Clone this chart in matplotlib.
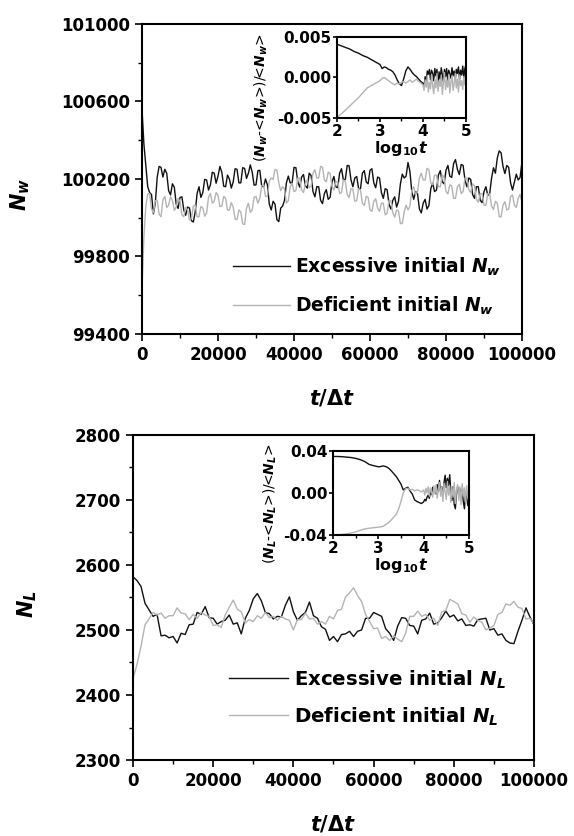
"""
plot.py
-------
Equilibration of N_w and N_L from excessive / deficient initial states,
with relative-deviation insets on a log10 time axis.
"""

import matplotlib
matplotlib.use("Agg")
import matplotlib.pyplot as plt
import numpy as np
from matplotlib.ticker import MultipleLocator

plt.rcParams["font.family"] = ["DejaVu Sans"]
plt.rcParams["font.weight"] = "bold"
plt.rcParams["axes.unicode_minus"] = False
plt.rcParams["mathtext.fontset"] = "custom"
plt.rcParams["mathtext.rm"] = "DejaVu Sans:bold"
plt.rcParams["mathtext.it"] = "DejaVu Sans:bold:italic"
plt.rcParams["mathtext.bf"] = "DejaVu Sans:bold"

BLACK = "#111111"
GREY  = "#b4b4b4"
T_END = 100000

# ── Data ──────────────────────────────────────────────────────────────────────

# N_w, one sample every 500 steps
nw_excess = [
    100560, 100380, 100270, 100160, 100130, 100120, 100020, 100075, 100210, 100265,
    100260, 100210, 100250, 100230, 100140, 100118, 100175, 100158, 100070, 100048,
    100105, 100108, 100040, 100013, 100055, 100050,  99985,  99978, 100030, 100125,
    100160, 100105, 100130, 100198, 100195, 100143, 100170, 100235, 100230, 100178,
    100215, 100265, 100235, 100163, 100160, 100220, 100200, 100153, 100185, 100253,
    100250, 100180, 100180, 100258, 100255, 100203, 100230, 100273, 100235, 100168,
    100170, 100243, 100245, 100163, 100160, 100200, 100170, 100070, 100040, 100085,
    100070,  99990,  99980, 100050, 100060, 100090, 100180, 100215, 100180, 100180,
    100260, 100258, 100185, 100158, 100210, 100223, 100165, 100153, 100230, 100218,
    100135, 100108, 100160, 100160, 100090, 100073, 100125, 100145, 100095, 100105,
    100185, 100213, 100160, 100155, 100230, 100253, 100195, 100198, 100270, 100268,
    100195, 100160, 100205, 100213, 100150, 100150, 100230, 100243, 100185, 100175,
    100245, 100253, 100180, 100155, 100210, 100205, 100130, 100100, 100150, 100145,
    100070, 100045, 100090, 100108, 100055, 100085, 100175, 100225, 100205, 100215,
    100285, 100240, 100135, 100095, 100135, 100125, 100045, 100025, 100075, 100095,
    100045, 100063, 100150, 100178, 100135, 100143, 100220, 100243, 100185, 100175,
    100245, 100270, 100215, 100208, 100280, 100300, 100250, 100223, 100275, 100270,
    100195, 100160, 100205, 100198, 100120, 100100, 100160, 100160, 100090, 100078,
    100135, 100160, 100115, 100125, 100205, 100258, 100230, 100308, 100345, 100335,
    100265, 100228, 100270, 100260, 100180, 100143, 100185, 100225, 100195, 100208,
    100290,
]
nw_deficient = [
     99640,  99900, 100060, 100123, 100125, 100045, 100025, 100088, 100090, 100018,
    100005, 100093, 100110, 100053, 100065, 100108, 100090, 100038, 100055, 100100,
    100085, 100015, 100005, 100053, 100040,  99988,  99995, 100060, 100065, 100005,
    100005, 100058, 100050, 100008, 100025, 100105, 100125, 100075, 100085, 100130,
    100115, 100058, 100060, 100110, 100100, 100040, 100040, 100078, 100055,  99993,
     99990, 100040, 100030,  99968,  99965, 100050, 100075, 100028, 100040, 100105,
    100110, 100075, 100100, 100165, 100170, 100110, 100110, 100188, 100205, 100198,
    100250, 100245, 100180, 100140, 100160, 100148, 100075, 100088, 100160, 100178,
    100135, 100140, 100205, 100205, 100145, 100130, 100175, 100195, 100155, 100163,
    100230, 100248, 100205, 100205, 100265, 100260, 100195, 100185, 100235, 100228,
    100160, 100143, 100185, 100185, 100125, 100130, 100195, 100188, 100120, 100105,
    100150, 100148, 100085, 100088, 100150, 100143, 100075, 100063, 100110, 100105,
    100040, 100033, 100085, 100098, 100050, 100033, 100075, 100075, 100015, 100023,
    100090, 100088, 100025, 100003, 100040, 100035,  99970,  99970, 100030, 100065,
    100040, 100060, 100140, 100160, 100120, 100133, 100205, 100230, 100195, 100195,
    100255, 100248, 100180, 100170, 100220, 100220, 100160, 100160, 100220, 100208,
    100135, 100123, 100170, 100165, 100100, 100100, 100160, 100173, 100125, 100135,
    100205, 100205, 100145, 100130, 100175, 100165, 100095, 100080, 100125, 100125,
    100065, 100065, 100125, 100123, 100060, 100043, 100085, 100075, 100005, 100005,
    100065, 100083, 100040, 100045, 100110, 100118, 100065, 100053, 100100, 100120,
    100080,
]

# N_L, one sample every 1000 steps
nl_excess = [
    2582, 2576, 2567, 2541, 2531, 2521, 2524, 2491, 2492, 2488,
    2490, 2480, 2495, 2493, 2508, 2509, 2527, 2524, 2536, 2519,
    2518, 2509, 2513, 2515, 2523, 2509, 2511, 2494, 2518, 2530,
    2548, 2556, 2545, 2527, 2525, 2517, 2521, 2520, 2538, 2551,
    2528, 2515, 2522, 2527, 2543, 2522, 2518, 2505, 2501, 2484,
    2490, 2482, 2493, 2494, 2498, 2490, 2498, 2500, 2518, 2518,
    2527, 2524, 2521, 2502, 2495, 2484, 2506, 2519, 2518, 2507,
    2506, 2494, 2515, 2517, 2526, 2509, 2511, 2519, 2529, 2520,
    2523, 2514, 2517, 2507, 2508, 2506, 2516, 2517, 2518, 2500,
    2502, 2492, 2494, 2484, 2480, 2479, 2498, 2515, 2534, 2520,
    2508,
]
nl_deficient = [
    2425, 2447, 2475, 2508, 2517, 2527, 2523, 2526, 2518, 2522,
    2522, 2534, 2526, 2525, 2516, 2524, 2518, 2527, 2523, 2521,
    2507, 2508, 2504, 2523, 2535, 2546, 2532, 2528, 2511, 2516,
    2513, 2522, 2518, 2527, 2519, 2521, 2515, 2521, 2517, 2515,
    2500, 2516, 2516, 2526, 2517, 2518, 2509, 2513, 2509, 2521,
    2517, 2530, 2532, 2551, 2557, 2565, 2553, 2544, 2524, 2513,
    2502, 2503, 2487, 2490, 2484, 2491, 2486, 2482, 2495, 2521,
    2521, 2529, 2521, 2524, 2515, 2518, 2507, 2528, 2530, 2547,
    2544, 2540, 2525, 2523, 2512, 2520, 2515, 2512, 2500, 2503,
    2507, 2524, 2527, 2540, 2538, 2544, 2535, 2533, 2517, 2518,
    2510,
]

# inset samples: log10 t grid 2.0-2.9 (0.1), 3.0-3.95 (0.05), 4.0-5.0 (0.025)
log_t = np.concatenate([np.linspace(2.0, 2.9, 10),
                        np.linspace(3.0, 3.95, 20),
                        np.linspace(4.0, 5.0, 41)])

dw_excess = [
    0.0041, 0.0039, 0.0037, 0.0035, 0.0032, 0.0030, 0.0027, 0.0025, 0.0022, 0.0019,
    0.0016, 0.0011, 0.0013, 0.0012, 0.0010, 0.0009, 0.0007, 0.0003, -0.0003, -0.0008,
    -0.0010, -0.0002, 0.0008, 0.0013, 0.0010, 0.0006, 0.0003, 0.0001, -0.0002, -0.0005,
    -0.0007, -0.0012, 0.0001, -0.0006, 0.0008, 0.0004, 0.0010, -0.0003, 0.0009, 0.0005,
    -0.0004, 0.0011, 0.0002, 0.0010, -0.0008, 0.0007, -0.0002, 0.0012, 0.0003, -0.0006,
    0.0010, 0.0001, 0.0011, -0.0004, 0.0009, 0.0004, -0.0001, 0.0012, 0.0002, 0.0008,
    -0.0003, 0.0010, 0.0005, 0.0013, -0.0002, 0.0009, 0.0003, 0.0014, 0.0000, 0.0011,
    0.0016,
]
dw_deficient = [
    -0.0049, -0.0045, -0.0040, -0.0035, -0.0030, -0.0025, -0.0019, -0.0013, -0.0010, -0.0007,
    -0.0004, -0.0001, 0.0000, -0.0002, -0.0004, -0.0006, -0.0008, -0.0009, -0.0007, -0.0008,
    -0.0006, -0.0005, -0.0007, -0.0005, -0.0003, -0.0006, -0.0004, -0.0002, -0.0005, -0.0007,
    -0.0009, -0.0016, -0.0003, -0.0012, 0.0002, -0.0018, -0.0006, -0.0014, 0.0004, -0.0010,
    -0.0020, -0.0002, -0.0013, 0.0005, -0.0017, -0.0004, -0.0011, 0.0003, -0.0021, -0.0007,
    0.0006, -0.0015, -0.0003, -0.0012, 0.0004, -0.0019, -0.0006, 0.0002, -0.0016, -0.0008,
    0.0005, -0.0013, -0.0002, -0.0018, 0.0003, -0.0010, -0.0004, -0.0015, 0.0001, -0.0009,
    -0.0005,
]

dl_excess = [
    0.0348, 0.0348, 0.0346, 0.0342, 0.0338, 0.0330, 0.0318, 0.0300, 0.0272, 0.0260,
    0.0250, 0.0252, 0.0258, 0.0254, 0.0245, 0.0228, 0.0205, 0.0180, 0.0155, 0.0120,
    0.0085, 0.0030, 0.0045, 0.0055, 0.0020, -0.0010, -0.0065, -0.0080, -0.0090, -0.0100,
    -0.0085, -0.0060, -0.0075, -0.0040, -0.0020, -0.0050, 0.0010, -0.0015, 0.0055, 0.0010,
    0.0030, -0.0010, 0.0080, 0.0020, 0.0120, 0.0010, 0.0060, -0.0020, 0.0100, 0.0170,
    0.0050, 0.0140, 0.0070, 0.0175, 0.0020, -0.0070, 0.0060, -0.0110, -0.0150, 0.0010,
    0.0060, -0.0030, 0.0040, -0.0020, 0.0030, -0.0080, -0.0150, 0.0000, -0.0040, -0.0120,
    -0.0070,
]
dl_deficient = [
    -0.0400, -0.0398, -0.0394, -0.0388, -0.0380, -0.0370, -0.0355, -0.0342, -0.0335, -0.0330,
    -0.0325, -0.0322, -0.0318, -0.0305, -0.0290, -0.0272, -0.0250, -0.0225, -0.0200, -0.0150,
    -0.0080, 0.0000, 0.0040, 0.0045, 0.0030, 0.0035, 0.0020, 0.0030, 0.0025, 0.0010,
    0.0030, -0.0020, 0.0045, 0.0000, 0.0060, -0.0030, 0.0050, 0.0010, -0.0040, 0.0070,
    -0.0010, 0.0080, -0.0050, 0.0040, 0.0100, -0.0030, 0.0060, -0.0080, 0.0090, 0.0010,
    -0.0060, 0.0110, -0.0020, 0.0070, -0.0090, 0.0050, -0.0040, 0.0100, -0.0100, 0.0030,
    0.0080, -0.0070, 0.0060, -0.0110, 0.0090, -0.0030, 0.0050, -0.0090, 0.0070, -0.0050,
    0.0020,
]


# ── Helpers ───────────────────────────────────────────────────────────────────

def style_axes(ax, lw=1.5, major=5, minor=3, labelsize=12):
    for sp in ax.spines.values():
        sp.set_linewidth(lw)
    ax.tick_params(which="major", direction="out", length=major, width=1.2,
                   labelsize=labelsize, top=False, right=False)
    ax.tick_params(which="minor", direction="out", length=minor, width=1.0,
                   top=False, right=False)


def main_panel(fig, rect, y_exc, y_def, ylim, ystep, ylabel, sub,
               ylab_xy, leg_anchor, leg_size, leg_gap):
    ax = fig.add_axes(rect)
    t = np.linspace(0, T_END, len(y_exc))
    ax.plot(t, y_exc, color=BLACK, lw=1.0, label=f"Excessive initial $N_{sub}$")
    ax.plot(t, y_def, color=GREY, lw=1.0, label=f"Deficient initial $N_{sub}$")
    ax.set_xlim(0, T_END)
    ax.set_ylim(*ylim)
    ax.set_yticks(np.arange(ylim[0], ylim[1] + 1, ystep))
    ax.yaxis.set_minor_locator(MultipleLocator(ystep / 2))
    ax.set_xticks(np.arange(0, T_END + 1, 20000))
    ax.xaxis.set_minor_locator(MultipleLocator(10000))
    style_axes(ax)
    ax.set_xlabel(r"$t/\Delta t$", fontsize=15, labelpad=17)
    ax.set_ylabel(ylabel, fontsize=15)
    ax.yaxis.set_label_coords(*ylab_xy)
    ax.legend(loc="lower right", bbox_to_anchor=leg_anchor, frameon=False,
              fontsize=leg_size, handlelength=3.0, handletextpad=0.3,
              labelspacing=leg_gap)
    return ax


def inset_panel(fig, rect, y_exc, y_def, ylim, yticks, yfmt, ylabel, ylab_xy):
    ax = fig.add_axes(rect)
    ax.plot(log_t, y_exc, color=BLACK, lw=1.0)
    ax.plot(log_t, y_def, color=GREY, lw=1.0)
    ax.set_xlim(2, 5)
    ax.set_ylim(*ylim)
    ax.set_xticks([2, 3, 4, 5])
    ax.xaxis.set_minor_locator(MultipleLocator(0.5))
    ax.set_yticks(yticks)
    ax.set_yticklabels([yfmt.format(v) for v in yticks])
    style_axes(ax, lw=1.5, major=3, minor=2, labelsize=11)
    ax.tick_params(axis="both", pad=1)
    ax.set_xlabel(r"$\mathrm{log}_{10}t$", fontsize=11.5, labelpad=0)
    ax.set_ylabel(ylabel, fontsize=10)
    ax.yaxis.set_label_coords(*ylab_xy)
    return ax


# ── Figure ────────────────────────────────────────────────────────────────────

fig = plt.figure(figsize=(5.74, 8.36), dpi=100)

main_panel(fig, [0.2474, 0.6005, 0.662, 0.3708], nw_excess, nw_deficient,
           (99400, 101000), 400, "$N_w$", "w",
           ylab_xy=(-0.29, 0.45), leg_anchor=(0.99, 0.0), leg_size=13.5,
           leg_gap=0.9)
main_panel(fig, [0.2317, 0.0909, 0.6986, 0.3888], nl_excess, nl_deficient,
           (2300, 2800), 100, "$N_L$", "L",
           ylab_xy=(-0.235, 0.48), leg_anchor=(0.975, 0.045), leg_size=14.2,
           leg_gap=0.75)

inset_panel(fig, [0.5871, 0.8589, 0.2247, 0.0969], dw_excess, dw_deficient,
            (-0.005, 0.005), [-0.005, 0.0, 0.005], "{:.3f}",
            "($N_w$-<$N_w$>)/<$N_w$>", ylab_xy=(-0.52, 0.25))
inset_panel(fig, [0.5801, 0.3600, 0.2369, 0.1005], dl_excess, dl_deficient,
            (-0.04, 0.04), [-0.04, 0.0, 0.04], "{:.2f}",
            "($N_L$-<$N_L$>)/<$N_L$>", ylab_xy=(-0.40, 0.37))

fig.savefig("out.png", dpi=100)
